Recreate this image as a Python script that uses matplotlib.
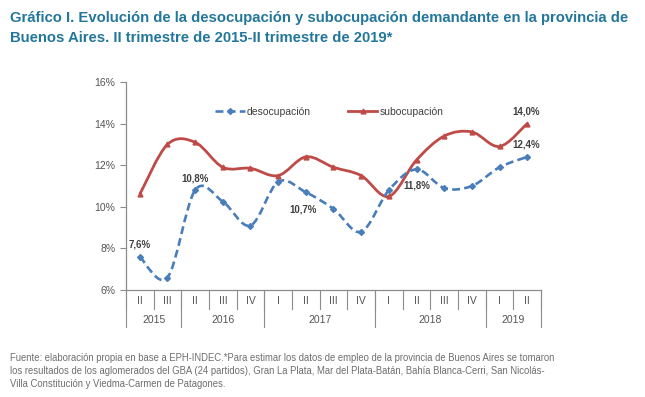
import numpy as np
import matplotlib
matplotlib.use('Agg')
import matplotlib.pyplot as plt
from matplotlib.path import Path
from matplotlib.patches import PathPatch
from matplotlib.lines import Line2D
import matplotlib.transforms as mtransforms

plt.rcParams['font.family'] = ['Liberation Sans', 'DejaVu Sans']

# Data
quarters = ['II', 'III', 'II', 'III', 'IV', 'I', 'II', 'III', 'IV',
            'I', 'II', 'III', 'IV', 'I', 'II']
years = ['2015', '2016', '2017', '2018', '2019']
year_counts = [2, 3, 4, 4, 2]
desocupacion = [7.6, 6.6, 10.8, 10.25, 9.1, 11.2, 10.7, 9.9, 8.8,
                10.8, 11.8, 10.9, 11.0, 11.9, 12.4]
subocupacion = [10.6, 13.0, 13.1, 11.9, 11.85, 11.5, 12.4, 11.9, 11.5,
                10.5, 12.25, 13.4, 13.6, 12.9, 14.0]
labels_deso = {0: '7,6%', 2: '10,8%', 6: '10,7%', 10: '11,8%', 14: '12,4%'}
labels_sub = {14: '14,0%'}

blue = '#4A7EBB'
red = '#BE4B48'
gray = '#8C8C8C'


def smooth_path(x, y):
    # Excel-like smoothed line: cubic Bezier through the points
    pts = np.column_stack([x, y]).astype(float)
    n = len(pts)
    verts = [pts[0]]
    codes = [Path.MOVETO]
    for i in range(n - 1):
        p0 = pts[i - 1] if i > 0 else pts[i]
        p1 = pts[i]
        p2 = pts[i + 1]
        p3 = pts[i + 2] if i + 2 < n else pts[i + 1]
        c1 = p1 + (p2 - p0) / 6.0
        c2 = p2 - (p3 - p1) / 6.0
        verts += [c1, c2, p2]
        codes += [Path.CURVE4] * 3
    return Path(verts, codes)


fig = plt.figure(figsize=(6.45, 3.97), dpi=100)
ax = fig.add_axes([0.1953, 0.2695, 0.6435, 0.524])

x = np.arange(len(quarters))

ax.add_patch(PathPatch(smooth_path(x, subocupacion), fill=False,
                       edgecolor=red, linewidth=2.0, capstyle='butt'))
ax.plot(x, subocupacion, linestyle='none', marker='^', markersize=3.5,
        color=red)
ax.add_patch(PathPatch(smooth_path(x, desocupacion), fill=False,
                       edgecolor=blue, linewidth=1.9, linestyle=(0, (3, 1.6))))
ax.plot(x, desocupacion, linestyle='none', marker='D', markersize=3,
        color=blue)

offsets = {0: (0, 5), 2: (0, 5), 6: (-2, -16), 10: (0, -15), 14: (-1, 5)}
for i, t in labels_deso.items():
    ax.annotate(t, (x[i], desocupacion[i]), xytext=offsets[i],
                textcoords='offset points', ha='center', va='bottom',
                fontsize=7, fontweight='bold', color='#404040')
for i, t in labels_sub.items():
    ax.annotate(t, (x[i], subocupacion[i]), xytext=(-1, 5),
                textcoords='offset points', ha='center', va='bottom',
                fontsize=7, fontweight='bold', color='#404040')

ax.set_xlim(-0.5, len(quarters) - 0.5)
ax.set_ylim(6, 16)
ax.set_yticks([6, 8, 10, 12, 14, 16])
ax.set_yticklabels(['6%', '8%', '10%', '12%', '14%', '16%'])
ax.tick_params(axis='y', colors=gray, labelcolor='#555555', labelsize=7.5,
               length=4, width=0.8)
ax.set_xticks([])
for s in ['top', 'right']:
    ax.spines[s].set_visible(False)
for s in ['left', 'bottom']:
    ax.spines[s].set_color(gray)
    ax.spines[s].set_linewidth(0.9)

# Category axis with two levels
trans = mtransforms.blended_transform_factory(ax.transData, ax.transAxes)
for i, q in enumerate(quarters):
    ax.text(x[i], -0.055, q, transform=trans, ha='center', va='center',
            fontsize=7.5, color='#555555')
for b in np.arange(len(quarters) + 1) - 0.5:
    ax.plot([b, b], [0, -0.09], transform=trans, color=gray, lw=0.8,
            clip_on=False)
start = -0.5
for yr, c in zip(years, year_counts):
    ax.text(start + c / 2, -0.145, yr, transform=trans, ha='center',
            va='center', fontsize=7.5, color='#555555')
    ax.plot([start, start], [0, -0.18], transform=trans, color=gray, lw=0.8,
            clip_on=False)
    start += c
ax.plot([start, start], [0, -0.18], transform=trans, color=gray, lw=0.8,
        clip_on=False)

# Legend
handles = [Line2D([], [], color=blue, lw=1.9, linestyle=(0, (3, 1.6)),
                  marker='D', markersize=3),
           Line2D([], [], color=red, lw=2.0, marker='^', markersize=3.5)]
ax.legend(handles, ['desocupación', 'subocupación'], loc='center',
          bbox_to_anchor=(0.49, 0.856), ncol=2, frameon=False, fontsize=7.5,
          handlelength=2.8, handletextpad=0.2, columnspacing=3.6,
          labelcolor='#404040', borderpad=0)

# Title and footnote
title_color = '#23779B'
fig.text(0.016, 0.955, 'Gráfico I. Evolución de la desocupación y subocupación '
         'demandante en la provincia de', fontsize=10.75, fontweight='bold',
         color=title_color, va='center', ha='left')
fig.text(0.016, 0.905, 'Buenos Aires. II trimestre de 2015-II trimestre de 2019*',
         fontsize=10.75, fontweight='bold', color=title_color, va='center',
         ha='left')
foot = ('Fuente: elaboración propia en base a EPH-INDEC.*Para estimar los datos de '
        'empleo de la provincia de Buenos Aires se tomaron\n'
        'los resultados de los aglomerados del GBA (24 partidos), Gran La Plata, '
        'Mar del Plata-Batán, Bahía Blanca-Cerri, San Nicolás-\n'
        'Villa Constitución y Viedma-Carmen de Patagones.')
fig.text(0.016, 0.112, foot, fontsize=6.85, color='#6E6E6E', va='top', ha='left',
         linespacing=1.4)

fig.savefig('out.png', dpi=100)
